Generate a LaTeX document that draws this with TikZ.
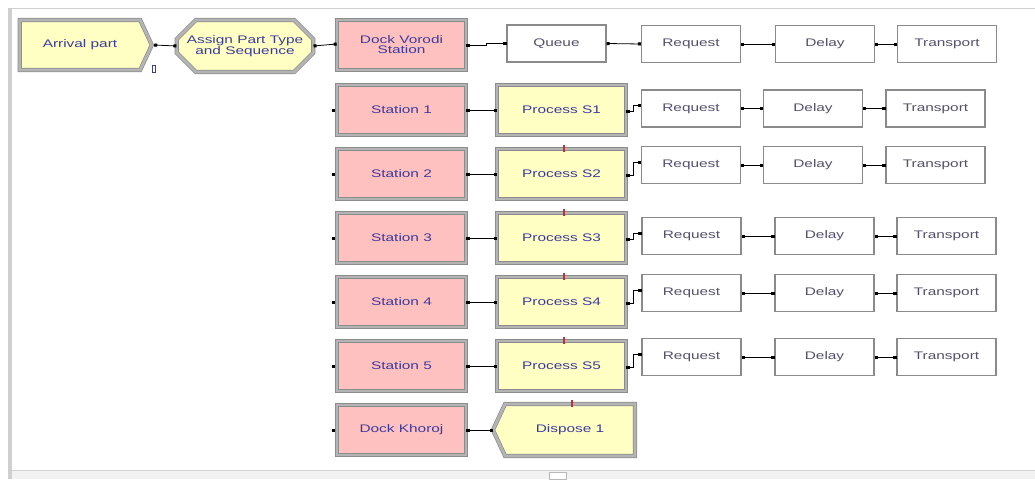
\documentclass[tikz,border=0pt]{standalone}
\usepackage{fontspec}
\newfontfamily\modfont[FakeStretch=1.4]{Liberation Sans}
\usetikzlibrary{shapes.misc,shapes.symbols,arrows.meta}
\definecolor{modpink}{HTML}{FFC0C0}
\definecolor{modyellow}{HTML}{FFFFC4}
\definecolor{bevel}{HTML}{B4B4B4}
\definecolor{beveldark}{HTML}{8C8C8C}
\definecolor{txtblue}{HTML}{3C3C9C}
\definecolor{txtgray}{HTML}{54506C}
\definecolor{framegray}{HTML}{CFCFCF}
\definecolor{wboxline}{HTML}{8A8A8A}
\definecolor{tickred}{HTML}{C03030}
\begin{document}
\begin{tikzpicture}[x=1pt,y=-1pt,
  modtext/.style={text=txtblue, font=\modfont\fontsize{11}{10}\selectfont, align=center},
  module/.style={modtext, draw=beveldark, line width=0.7pt, double=bevel, double distance=2.8pt, inner sep=1pt},
  pinkmod/.style={module, rectangle, fill=modpink, minimum width=129pt, minimum height=50pt},
  procmod/.style={module, rectangle, fill=modyellow, minimum width=129pt, minimum height=50pt},
  arrivalmod/.style={module, signal, signal to=east, signal pointer angle=130, fill=modyellow, minimum width=132pt, minimum height=50pt},
  assignmod/.style={module, chamfered rectangle, chamfered rectangle xsep=9pt, chamfered rectangle ysep=10pt, fill=modyellow, minimum width=134pt, minimum height=52pt},
  disposemod/.style={module, signal, signal to=west, signal pointer angle=130, fill=modyellow, minimum width=142pt, minimum height=52pt},
  wbox/.style={rectangle, draw=wboxline, line width=1.2pt, fill=white, minimum width=99pt, minimum height=37pt, inner sep=1pt,
    text=txtgray, font=\modfont\fontsize{11}{10}\selectfont},
  conn/.style={line width=0.8pt, black, {Square[length=3pt,width=3pt]}-{Square[length=3pt,width=3pt]}},
  redtick/.style={tickred, line width=2pt}
]
\useasboundingbox (0,0) rectangle (1035,479);
% window frame
\fill[framegray] (8,8) rectangle (12,479);
\draw[framegray, line width=1pt] (8,8.5) -- (1035,8.5);
\fill[gray!10] (12,470) rectangle (1035,479);
\draw[gray!35, line width=0.8pt] (12,470) -- (1035,470);
\draw[gray!55, fill=white, line width=0.8pt] (549,472) rectangle (566,479);

% top row
\node[arrivalmod] (arr) at (80,45) {Arrival part};
\node[assignmod] (asg) at (245,46) {Assign Part Type\\and Sequence};
\node[pinkmod] (dv) at (401.5,45) {Dock Vorodi\\Station};
\node[wbox] (q) at (556.5,43.5) {Queue};
\node[wbox] (r0) at (691,44) {Request};
\node[wbox] (d0) at (825,44) {Delay};
\node[wbox] (t0) at (947,44) {Transport};
\draw[txtblue, line width=0.6pt] (152,65) rectangle (155,72);

\draw[conn] ([xshift=2pt]arr.east) -- (asg.west);
\draw[conn] (asg.east) -- ([yshift=1pt]dv.west);
\draw[conn] (dv.east) -- ++(20,0) |- (q.west);
\draw[conn] (q.east) -- (r0.west);
\draw[conn] (r0.east) -- (d0.west);
\draw[conn] (d0.east) -- (t0.west);

% station rows
\node[pinkmod] (s1) at (401.5,110) {Station 1};
\node[procmod] (p1) at (561.5,110) {Process S1};
\node[wbox] (r1) at (691,108.5) {Request};
\node[wbox] (d1) at (813,108.5) {Delay};
\node[wbox] (t1) at (935.5,108.5) {Transport};

\node[pinkmod] (s2) at (401.5,174) {Station 2};
\node[procmod] (p2) at (561.5,174) {Process S2};
\node[wbox] (r2) at (691,165) {Request};
\node[wbox] (d2) at (813,165) {Delay};
\node[wbox] (t2) at (935.5,165) {Transport};

\node[pinkmod] (s3) at (401.5,238) {Station 3};
\node[procmod] (p3) at (561.5,238) {Process S3};
\node[wbox] (r3) at (691.5,236) {Request};
\node[wbox] (d3) at (824.5,236) {Delay};
\node[wbox] (t3) at (946.5,236) {Transport};

\node[pinkmod] (s4) at (401.5,302) {Station 4};
\node[procmod] (p4) at (561.5,302) {Process S4};
\node[wbox] (r4) at (691.5,293) {Request};
\node[wbox] (d4) at (824.5,293) {Delay};
\node[wbox] (t4) at (946.5,293) {Transport};

\node[pinkmod] (s5) at (401.5,366) {Station 5};
\node[procmod] (p5) at (561.5,366) {Process S5};
\node[wbox] (r5) at (691.5,357) {Request};
\node[wbox] (d5) at (824.5,357) {Delay};
\node[wbox] (t5) at (946.5,357) {Transport};

\node[pinkmod] (s6) at (401.5,430) {Dock Khoroj};
\node[disposemod] (disp) at (570,430) {Dispose 1};

\foreach \i in {1,...,5} {
  \draw[conn] (s\i.east) -- (p\i.west);
  \draw[conn] ([yshift=-1pt]p\i.east) -- ++(7,0) |- ([yshift=3pt]r\i.west);
  \draw[conn] (r\i.east) -- (d\i.west);
  \draw[conn] (d\i.east) -- (t\i.west);
}
\draw[conn] (s6.east) -- (disp.west);
\foreach \i in {1,...,6} {
  \fill ([xshift=-3pt]s\i.west) ++(-1.5,-1.5) rectangle ++(3,3);
}
\foreach \n in {p2,p3,p4,p5,disp} {
  \draw[redtick] ([xshift=2pt,yshift=-3pt]\n.north) -- ([xshift=2pt,yshift=4pt]\n.north);
}
\end{tikzpicture}
\end{document}
